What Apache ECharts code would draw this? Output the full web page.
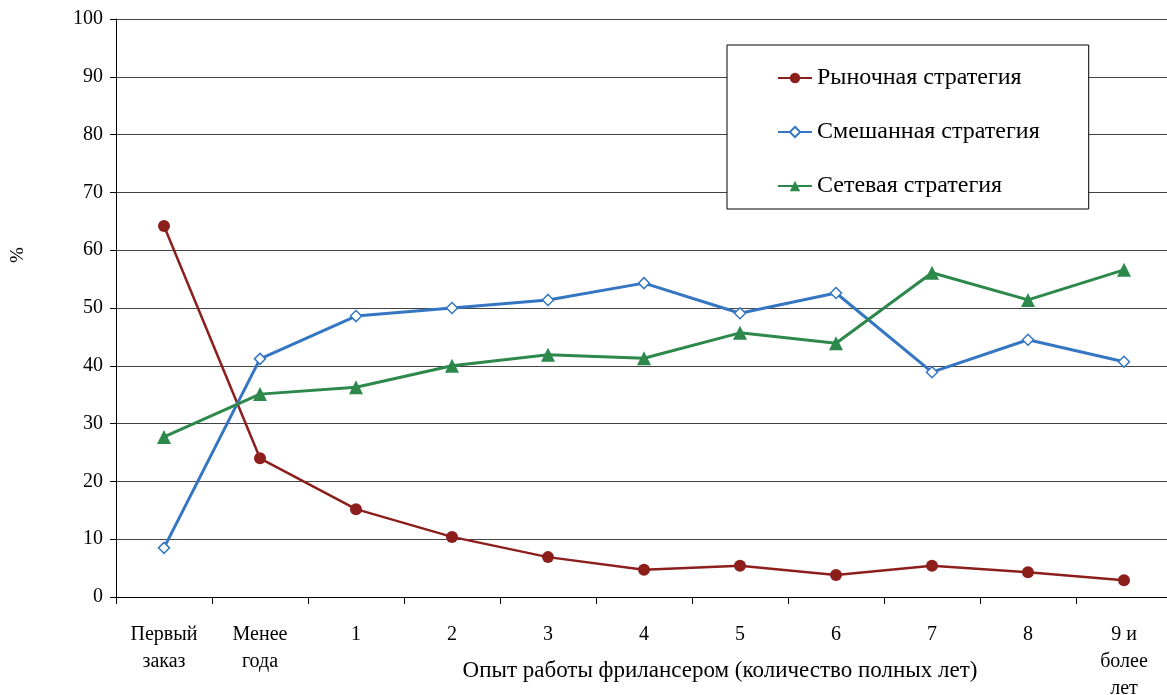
<!DOCTYPE html>
<html><head><meta charset="utf-8">
<script src="https://cdn.jsdelivr.net/npm/echarts@6/dist/echarts.min.js"></script>
<style>html,body{margin:0;padding:0;background:#fff}#c{width:1167px;height:695px}</style>
</head><body><div id="c"></div>
<script>
const categories = ['Первый\nзаказ','Менее\nгода','1','2','3','4','5','6','7','8','9 и\nболее\nлет'];
const yTicks = [0,10,20,30,40,50,60,70,80,90,100];
const market = [64.2,24.0,15.2,10.4,6.9,4.7,5.4,3.8,5.4,4.3,2.9];
const mixed  = [8.5,41.2,48.6,50.0,51.4,54.3,49.1,52.6,38.9,44.5,40.7];
const network= [27.7,35.1,36.3,40.0,41.9,41.3,45.7,43.9,56.1,51.4,56.6];
const names = ['Рыночная стратегия','Смешанная стратегия','Сетевая стратегия'];
const xTitle = 'Опыт работы фрилансером (количество полных лет)';
const yTitle = '%';

const font = 'Liberation Serif, Times New Roman, serif';
const chart = echarts.init(document.getElementById('c'));
chart.setOption({
  animation:false,
  textStyle:{fontFamily:font},
  grid:{left:116, top:19, width:1056, height:578, outerBoundsMode:'none', containLabel:false},
  legend:{
    orient:'vertical', left:727, top:45,
    backgroundColor:'#fff', borderColor:'#000', borderWidth:1,
    padding:[21,49,11,50], itemGap:30, itemWidth:34, itemHeight:13,
    textStyle:{fontFamily:font, fontSize:24, color:'#000'},
    data:names
  },
  graphic:[
    {type:'text', x:720, y:671, style:{text:xTitle, font:'23px '+font, fill:'#000', align:'center', verticalAlign:'middle'}},
    {type:'text', x:18, y:255, rotation:Math.PI/2, style:{text:yTitle, font:'19px '+font, fill:'#000', align:'center', verticalAlign:'middle'}}
  ],
  xAxis:{
    type:'category', data:categories, boundaryGap:true,
    axisLine:{lineStyle:{color:'#000', width:1}},
    axisTick:{show:true, length:7, inside:false, lineStyle:{color:'#000'}},
    axisLabel:{fontFamily:font, fontSize:20, color:'#000', margin:24, lineHeight:27, interval:0},
    splitLine:{show:false}
  },
  yAxis:{
    type:'value', min:0, max:100, interval:10,
    axisLine:{show:true, lineStyle:{color:'#000', width:1}},
    axisTick:{show:true, length:6, lineStyle:{color:'#000'}},
    axisLabel:{fontFamily:font, fontSize:20, color:'#000', margin:13,
      formatter:v=>yTicks.includes(v)?String(v):''},
    splitLine:{show:true, lineStyle:{color:'#444', width:1}}
  },
  series:[
    {name:names[0], type:'line', data:market, symbol:'circle', symbolSize:12,
     itemStyle:{color:'#8c1f1c'}, lineStyle:{color:'#8c1f1c', width:2.5}},
    {name:names[1], type:'line', data:mixed, symbol:'diamond', symbolSize:11,
     itemStyle:{color:'#fff', borderColor:'#3476c2', borderWidth:1.5}, lineStyle:{color:'#3476c2', width:3}},
    {name:names[2], type:'line', data:network, symbol:'triangle', symbolSize:14,
     itemStyle:{color:'#2d884b'}, lineStyle:{color:'#2d884b', width:3}}
  ]
});
</script></body></html>
